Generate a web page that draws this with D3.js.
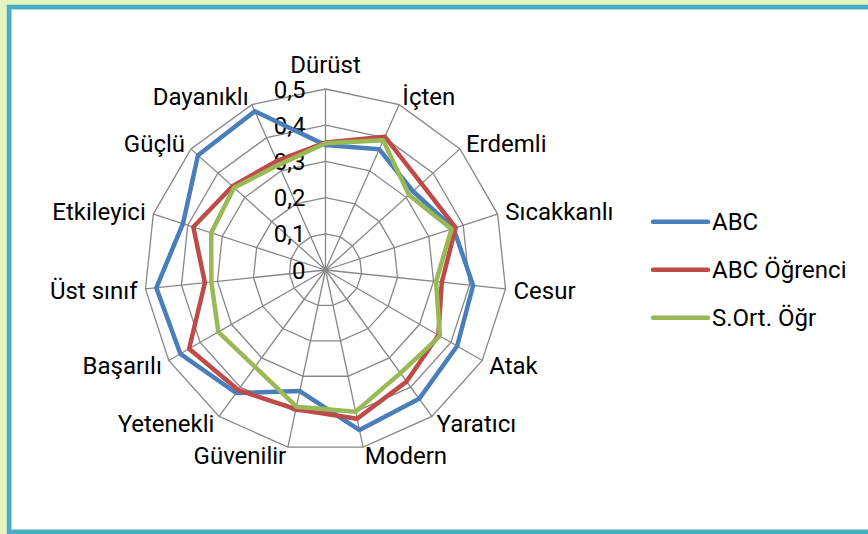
<!DOCTYPE html>
<html>
<head>
<meta charset="utf-8">
<script src="https://cdn.jsdelivr.net/npm/d3@7"></script>
<style>
  body { margin: 0; background: #e4f3c2; }
  svg { display: block; }
  text { font-family: Roboto, "Open Sans", sans-serif; fill: #000; }
</style>
</head>
<body>
<div id="chart"></div>
<script>
// values
var categories = ["Dürüst", "İçten", "Erdemli", "Sıcakkanlı", "Cesur", "Atak", "Yaratıcı",
    "Modern", "Güvenilir", "Yetenekli", "Başarılı", "Üst sınıf", "Etkileyici", "Güçlü", "Dayanıklı"];
var abc        = [0.345, 0.365, 0.325, 0.372, 0.41, 0.42, 0.44, 0.452, 0.342, 0.42, 0.463, 0.47, 0.414, 0.474, 0.48];
var abcOgrenci = [0.352, 0.403, 0.357, 0.378, 0.323, 0.36, 0.381, 0.42, 0.393, 0.41, 0.435, 0.335, 0.384, 0.346, 0.33];
var sOrtOgr    = [0.35, 0.392, 0.31, 0.366, 0.307, 0.365, 0.352, 0.40, 0.386, 0.331, 0.342, 0.317, 0.332, 0.34, 0.318];
var seriesNames = ["ABC", "ABC Öğrenci", "S.Ort. Öğr"];
var ticks = [0, 0.1, 0.2, 0.3, 0.4, 0.5];
var tickLabels = ["0", "0,1", "0,2", "0,3", "0,4", "0,5"];

var colors = ["#4a7ebb", "#be4b48", "#98b954"];
var series = [abc, abcOgrenci, sOrtOgr];

var width = 868, height = 534;
var cx = 325.5, cy = 270, R = 181;
var fontSize = "24px";

var svg = d3.select("#chart").append("svg")
    .attr("width", width)
    .attr("height", height);

// frame
svg.append("rect")
    .attr("x", 9).attr("y", 7)
    .attr("width", 900).attr("height", 525)
    .attr("fill", "#fff")
    .attr("stroke", "#4bacc6")
    .attr("stroke-width", 4.5);
svg.append("rect")
    .attr("x", 11.5).attr("y", 9.5)
    .attr("width", 900).attr("height", 520)
    .attr("fill", "none")
    .attr("stroke", "#a5d5e2")
    .attr("stroke-width", 1);

var r = d3.scaleLinear().domain([0, 0.5]).range([0, R]);
var angle = d3.scalePoint().domain(d3.range(categories.length + 1)).range([0, 2 * Math.PI]);

var g = svg.append("g").attr("transform", "translate(" + cx + "," + cy + ")");

// rings
var ring = d3.lineRadial()
    .angle(function(d, i) { return angle(i); })
    .radius(function(d) { return r(d); })
    .curve(d3.curveLinearClosed);

g.selectAll(".ring")
    .data(ticks.slice(1))
    .enter().append("path")
    .attr("d", function(t) { return ring(categories.map(function() { return t; })); })
    .attr("fill", "none")
    .attr("stroke", "#878787")
    .attr("stroke-width", 1.3);

// spokes
g.selectAll(".spoke")
    .data(categories)
    .enter().append("line")
    .attr("x1", 0).attr("y1", 0)
    .attr("x2", function(d, i) { return r(0.5) * Math.sin(angle(i)); })
    .attr("y2", function(d, i) { return -r(0.5) * Math.cos(angle(i)); })
    .attr("stroke", "#878787")
    .attr("stroke-width", 1.3);

// tick labels
g.selectAll(".tick")
    .data(ticks)
    .enter().append("text")
    .attr("x", -20)
    .attr("y", function(d) { return -r(d); })
    .attr("dy", "0.36em")
    .attr("text-anchor", "end")
    .style("font-size", fontSize)
    .text(function(d, i) { return tickLabels[i]; });

// category labels
g.selectAll(".cat")
    .data(categories)
    .enter().append("text")
    .each(function(d, i) {
        var a = angle(i), s = Math.sin(a), c = Math.cos(a);
        var vx = r(0.5) * s, vy = -r(0.5) * c;
        var anchor = s > 0.05 ? "start" : (s < -0.05 ? "end" : "middle");
        var off = i == 0 ? 25 : 9;
        d3.select(this)
            .attr("x", vx + 8 * s)
            .attr("y", vy - c * off)
            .attr("dy", "0.36em")
            .attr("text-anchor", anchor);
    })
    .style("font-size", fontSize)
    .text(function(d) { return d; });

// series
var line = d3.lineRadial()
    .angle(function(d, i) { return angle(i); })
    .radius(function(d) { return r(d); })
    .curve(d3.curveLinearClosed);

g.selectAll(".series")
    .data(series)
    .enter().append("path")
    .attr("d", line)
    .attr("fill", "none")
    .attr("stroke", function(d, i) { return colors[i]; })
    .attr("stroke-width", 4.5)
    .attr("stroke-linejoin", "round");

// legend
var legend = svg.selectAll(".legend")
    .data(seriesNames)
    .enter().append("g")
    .attr("transform", function(d, i) { return "translate(653," + (221.7 + i * 48) + ")"; });

legend.append("line")
    .attr("x1", 0).attr("x2", 55)
    .attr("y1", 0).attr("y2", 0)
    .attr("stroke", function(d, i) { return colors[i]; })
    .attr("stroke-width", 4.5)
    .attr("stroke-linecap", "round");

legend.append("text")
    .attr("x", 59)
    .attr("y", 0)
    .attr("dy", "0.36em")
    .style("font-size", fontSize)
    .text(function(d) { return d; });
</script>
</body>
</html>
